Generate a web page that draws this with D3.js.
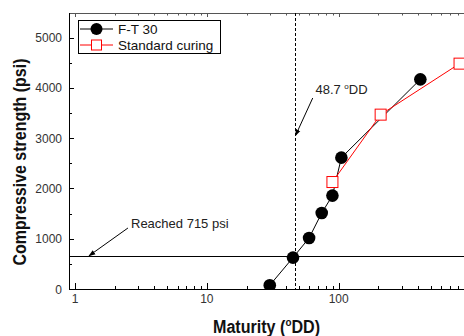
<!DOCTYPE html>
<html>
<head>
<meta charset="utf-8">
<script src="https://cdn.jsdelivr.net/npm/d3@7"></script>
<style>
  body { margin: 0; background: #fff; }
  svg { display: block; font-family: "Liberation Sans", Arial, sans-serif; }
</style>
</head>
<body>
<svg id="chart" width="464" height="336"></svg>
<script>
/* Data */
var ftMaturity = [30, 45, 59.6, 74.3, 89.6, 104.8, 416];
var ftStrength = [74, 624, 1014, 1511, 1857, 2612, 4169];
var stdMaturity = [89.6, 208, 825];
var stdStrength = [2127, 3467, 4481];
var xTickValues = [1, 10, 100, 1000];
var yTickValues = [0, 1000, 2000, 3000, 4000, 5000];
var reachedStrength = 660;
var thresholdMaturity = 47;

var svg = d3.select("svg#chart");

/* plot box: it runs past the right edge of the window */
var plotL = 69, plotR = 481, plotT = 13, plotB = 289;
var x = d3.scaleLog().domain([0.9, 1200]).range([plotL, plotR]);
var y = d3.scaleLinear().domain([0, 5480]).range([plotB, 13.4]);

var defs = svg.append("defs");
defs.append("clipPath").attr("id", "plotclip")
  .append("rect").attr("x", plotL).attr("y", plotT).attr("width", plotR - plotL).attr("height", plotB - plotT);

defs.append("marker")
  .attr("id", "arrow")
  .attr("viewBox", "0 0 10 10")
  .attr("refX", 9).attr("refY", 5)
  .attr("markerWidth", 7).attr("markerHeight", 7)
  .attr("orient", "auto")
  .append("path").attr("d", "M0,1.5L10,5L0,8.5z").attr("fill", "#000");

/* minor ticks */
var xMinor = [];
[1, 10, 100, 1000].forEach(d => { for (var k = 2; k < 10; k++) xMinor.push(d * k); });
xMinor = xMinor.filter(v => v < 1200);
var yMinor = d3.range(500, 5500, 1000);

var axes = svg.append("g").attr("stroke", "#000").attr("stroke-width", 1);
// frame lines
axes.append("line").attr("x1", plotL).attr("x2", plotR).attr("y1", plotB + 0.5).attr("y2", plotB + 0.5);
axes.append("line").attr("x1", plotL).attr("x2", plotR).attr("y1", plotT + 0.5).attr("y2", plotT + 0.5).attr("stroke", "#555");
axes.append("line").attr("x1", plotL + 0.5).attr("x2", plotL + 0.5).attr("y1", plotT).attr("y2", plotB + 1);

// bottom & top ticks (inward)
xTickValues.forEach(v => {
  var px = Math.round(x(v)) + 0.5;
  axes.append("line").attr("x1", px).attr("x2", px).attr("y1", plotB).attr("y2", plotB - 6);
  axes.append("line").attr("x1", px).attr("x2", px).attr("y1", plotT).attr("y2", plotT + 4).attr("stroke", "#555");
});
xMinor.forEach(v => {
  var px = Math.round(x(v)) + 0.5;
  axes.append("line").attr("x1", px).attr("x2", px).attr("y1", plotB).attr("y2", plotB - 3);
  axes.append("line").attr("x1", px).attr("x2", px).attr("y1", plotT).attr("y2", plotT + 2.5).attr("stroke", "#555");
});
// left ticks (inward)
yTickValues.forEach(v => {
  var py = Math.round(y(v)) + 0.5;
  axes.append("line").attr("x1", plotL).attr("x2", plotL + 5).attr("y1", py).attr("y2", py);
});
yMinor.forEach(v => {
  var py = Math.round(y(v)) + 0.5;
  axes.append("line").attr("x1", plotL).attr("x2", plotL + 3).attr("y1", py).attr("y2", py);
});

/* tick labels (1000 falls outside the window) */
svg.append("g").selectAll("text").data(xTickValues.filter(v => x(v) < 440)).enter().append("text")
  .attr("x", d => x(d)).attr("y", 303)
  .attr("text-anchor", "middle")
  .attr("fill", "#333").style("font-size", "12px")
  .text(d => d);

svg.append("g").selectAll("text").data(yTickValues).enter().append("text")
  .attr("x", 62).attr("y", d => y(d) + 4.5)
  .attr("text-anchor", "end")
  .attr("fill", "#333").style("font-size", "12px")
  .text(d => d);

/* axis titles */
var xTitle = svg.append("text")
  .attr("x", 213).attr("y", 333)
  .attr("textLength", 107).attr("lengthAdjust", "spacingAndGlyphs")
  .style("font-size", "18px").style("font-weight", "bold")
  .attr("fill", "#111");
xTitle.append("tspan").text("Maturity (");
xTitle.append("tspan").text("o").style("font-size", "11px").attr("dy", -7);
xTitle.append("tspan").text("DD)").attr("dy", 7);

svg.append("text")
  .attr("transform", "translate(26,162) rotate(-90)")
  .attr("text-anchor", "middle")
  .attr("textLength", 207).attr("lengthAdjust", "spacingAndGlyphs")
  .style("font-size", "18px").style("font-weight", "bold")
  .attr("fill", "#111")
  .text("Compressive strength (psi)");

/* reference lines */
var plot = svg.append("g").attr("clip-path", "url(#plotclip)");
plot.append("line")
  .attr("x1", plotL).attr("x2", plotR)
  .attr("y1", Math.round(y(reachedStrength)) + 0.5).attr("y2", Math.round(y(reachedStrength)) + 0.5)
  .attr("stroke", "#000").attr("stroke-width", 1.2);
plot.append("line")
  .attr("x1", Math.round(x(thresholdMaturity)) + 0.5).attr("x2", Math.round(x(thresholdMaturity)) + 0.5)
  .attr("y1", plotT).attr("y2", plotB)
  .attr("stroke", "#000").attr("stroke-width", 1).attr("stroke-dasharray", "3,2");

/* series */
var ftData = ftMaturity.map((m, i) => ({m: m, s: ftStrength[i]}));
var stdData = stdMaturity.map((m, i) => ({m: m, s: stdStrength[i]}));
var line = d3.line().x(d => x(d.m)).y(d => y(d.s));

plot.append("path").datum(ftData).attr("d", line)
  .attr("fill", "none").attr("stroke", "#000").attr("stroke-width", 1);
plot.append("path").datum(stdData).attr("d", line)
  .attr("fill", "none").attr("stroke", "#f00").attr("stroke-width", 1);

plot.selectAll(".ft").data(ftData).enter().append("circle")
  .attr("class", "ft")
  .attr("cx", d => x(d.m)).attr("cy", d => y(d.s)).attr("r", 6.3)
  .attr("fill", "#000");

plot.selectAll(".std").data(stdData).enter().append("rect")
  .attr("class", "std")
  .attr("x", d => x(d.m) - 5.5).attr("y", d => y(d.s) - 5.5)
  .attr("width", 11).attr("height", 11)
  .attr("fill", "#fff").attr("stroke", "#f00").attr("stroke-width", 1);

/* annotations */
svg.append("line")
  .attr("x1", x(63.5)).attr("y1", y(3797))
  .attr("x2", x(thresholdMaturity)).attr("y2", y(3050))
  .attr("stroke", "#000").attr("stroke-width", 1)
  .attr("marker-end", "url(#arrow)");
var ann1 = svg.append("text")
  .attr("x", x(66.6)).attr("y", 94)
  .style("font-size", "13px").attr("fill", "#222");
ann1.append("tspan").text("48.7 ");
ann1.append("tspan").text("o").style("font-size", "8px").attr("dy", -5);
ann1.append("tspan").text("DD").attr("dy", 5);

svg.append("line")
  .attr("x1", x(2.52)).attr("y1", y(1213))
  .attr("x2", x(1.276)).attr("y2", y(reachedStrength))
  .attr("stroke", "#000").attr("stroke-width", 1)
  .attr("marker-end", "url(#arrow)");
svg.append("text")
  .attr("x", 131).attr("y", 227.5)
  .style("font-size", "13px").attr("fill", "#222")
  .text("Reached 715 psi");

/* legend */
var legend = svg.append("g");
legend.append("rect")
  .attr("x", 78.5).attr("y", 20.5).attr("width", 142).attr("height", 33)
  .attr("fill", "#fff").attr("stroke", "#000").attr("stroke-width", 1);
legend.append("line").attr("x1", 80).attr("x2", 113).attr("y1", 29).attr("y2", 29).attr("stroke", "#000");
legend.append("circle").attr("cx", 96.5).attr("cy", 29).attr("r", 6).attr("fill", "#000");
legend.append("text").attr("x", 118).attr("y", 34).style("font-size", "13.5px").attr("fill", "#111").text("F-T 30");
legend.append("line").attr("x1", 80).attr("x2", 113).attr("y1", 45).attr("y2", 45).attr("stroke", "#f00");
legend.append("rect").attr("x", 91.5).attr("y", 40).attr("width", 10).attr("height", 10)
  .attr("fill", "#fff").attr("stroke", "#f00");
legend.append("text").attr("x", 118).attr("y", 50).style("font-size", "13.5px").attr("fill", "#111").text("Standard curing");
</script>
</body>
</html>
